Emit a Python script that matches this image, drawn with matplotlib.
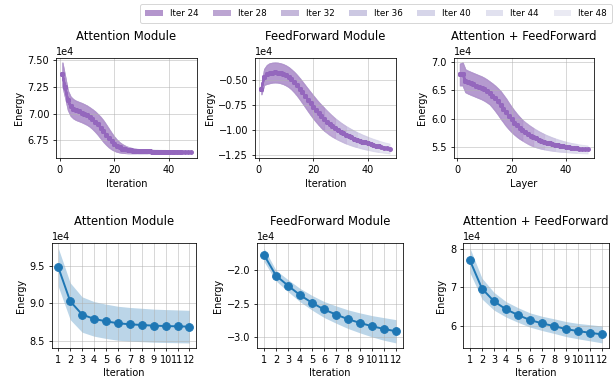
import matplotlib
matplotlib.use("Agg")
import matplotlib.pyplot as plt
from matplotlib.patches import Patch
import numpy as np

# ---------------- data (energies in units of 1e4) ----------------
iter_counts = [24, 28, 32, 36, 40, 44, 48]
steps_long = list(range(1, 49))
steps_short = list(range(1, 13))

attn_mean = [7.37, 7.25, 7.125, 7.07, 7.045, 7.03, 7.02, 7.01, 6.998, 6.985,
             6.968, 6.948, 6.925, 6.898, 6.868, 6.836, 6.803, 6.771, 6.742, 6.717,
             6.697, 6.682, 6.671, 6.663, 6.657, 6.653, 6.650, 6.648, 6.646, 6.645,
             6.6445, 6.644, 6.6435, 6.643, 6.6427, 6.6424, 6.6421, 6.6418, 6.6415, 6.6412,
             6.641, 6.6408, 6.6406, 6.6404, 6.6402, 6.640, 6.640, 6.640]
attn_std = [0.11, 0.10, 0.09, 0.09, 0.09, 0.09, 0.09, 0.09, 0.09, 0.09,
            0.09, 0.092, 0.095, 0.097, 0.10, 0.10, 0.095, 0.087, 0.077, 0.066,
            0.056, 0.047, 0.040, 0.034, 0.030, 0.026, 0.023, 0.021, 0.020, 0.019,
            0.018, 0.018, 0.017, 0.017, 0.016, 0.016, 0.016, 0.016, 0.016, 0.016,
            0.015, 0.015, 0.015, 0.015, 0.015, 0.015, 0.015, 0.015]

ff_mean = [-0.59, -0.465, -0.44, -0.428, -0.422, -0.42, -0.422, -0.428, -0.437, -0.45,
           -0.467, -0.49, -0.517, -0.548, -0.583, -0.62, -0.658, -0.696, -0.733, -0.769,
           -0.803, -0.835, -0.865, -0.893, -0.918, -0.942, -0.964, -0.984, -1.002, -1.019,
           -1.035, -1.05, -1.063, -1.076, -1.088, -1.099, -1.109, -1.119, -1.128, -1.137,
           -1.145, -1.153, -1.16, -1.167, -1.173, -1.179, -1.184, -1.189]
ff_std = [0.05, 0.08, 0.095, 0.10, 0.10, 0.10, 0.10, 0.10, 0.10, 0.10,
          0.10, 0.10, 0.102, 0.104, 0.106, 0.108, 0.11, 0.112, 0.114, 0.115,
          0.115, 0.115, 0.115, 0.115, 0.111, 0.108, 0.104, 0.10, 0.097, 0.093,
          0.09, 0.087, 0.084, 0.081, 0.078, 0.075, 0.073, 0.07, 0.068, 0.065,
          0.063, 0.061, 0.059, 0.057, 0.055, 0.053, 0.051, 0.05]

both_mean = [6.78, 6.79, 6.67, 6.645, 6.625, 6.605, 6.585, 6.565, 6.545, 6.52,
             6.49, 6.455, 6.41, 6.36, 6.305, 6.245, 6.18, 6.115, 6.05, 5.99,
             5.935, 5.885, 5.84, 5.80, 5.765, 5.733, 5.704, 5.678, 5.655, 5.634,
             5.615, 5.598, 5.583, 5.569, 5.556, 5.544, 5.533, 5.523, 5.514, 5.506,
             5.498, 5.491, 5.485, 5.479, 5.474, 5.469, 5.465, 5.461]
both_std = [0.19, 0.20, 0.20, 0.20, 0.20, 0.20, 0.20, 0.20, 0.20, 0.20,
            0.20, 0.20, 0.21, 0.22, 0.23, 0.24, 0.24, 0.24, 0.23, 0.22,
            0.21, 0.20, 0.19, 0.18, 0.175, 0.17, 0.165, 0.16, 0.153, 0.146,
            0.14, 0.133, 0.127, 0.121, 0.115, 0.11, 0.105, 0.10, 0.095, 0.09,
            0.087, 0.084, 0.081, 0.078, 0.076, 0.074, 0.072, 0.07]

b_attn_mean = [9.482, 9.03, 8.853, 8.795, 8.763, 8.737, 8.723, 8.714, 8.705, 8.70, 8.696, 8.692]
b_attn_std = [0.255, 0.245, 0.235, 0.23, 0.228, 0.226, 0.224, 0.222, 0.22, 0.219, 0.218, 0.217]
b_ff_mean = [-1.763, -2.076, -2.227, -2.369, -2.485, -2.586, -2.662, -2.732, -2.788, -2.838, -2.879, -2.914]
b_ff_std = [0.10, 0.08, 0.09, 0.10, 0.11, 0.12, 0.13, 0.14, 0.15, 0.16, 0.17, 0.175]
b_both_mean = [7.696, 6.965, 6.635, 6.426, 6.278, 6.148, 6.061, 5.99, 5.913, 5.86, 5.817, 5.774]
b_both_std = [0.32, 0.27, 0.23, 0.20, 0.19, 0.185, 0.185, 0.19, 0.195, 0.20, 0.21, 0.22]

top_titles = ["Attention Module", "FeedForward Module", "Attention + FeedForward"]
top_xlabels = ["Iteration", "Iteration", "Layer"]
bottom_titles = ["Attention Module", "FeedForward Module", "Attention + FeedForward"]
top_yticks = [[6.75, 7.00, 7.25, 7.50], [-1.25, -1.00, -0.75, -0.50], [5.5, 6.0, 6.5, 7.0]]
bottom_yticks = [[8.5, 9.0, 9.5], [-3.0, -2.5, -2.0], [6, 7, 8]]
top_xticks = [0, 20, 40]
SCALE = 1e4

# ---------------- styling ----------------
W, H, DPI = 616, 383, 70
fig = plt.figure(figsize=(W / DPI, H / DPI), dpi=DPI)

def box(l, r, t, b):
    return [l / W, 1 - b / H, (r - l) / W, (b - t) / H]

top_boxes = [box(56, 197, 58, 158), box(255, 396, 58, 158), box(453.5, 594, 58, 158)]
bot_boxes = [box(51.7, 196, 243.3, 347.7), box(257.3, 402.7, 243.3, 347.7), box(463.3, 609, 243.3, 347.7)]

purple = "#9467bd"
fill_colors = ["#ac8cc9", "#b798cf", "#c1aed9", "#cac0e0", "#d0cae5", "#d8d4eb", "#d1d1e7"]
fill_alpha = 0.5
legend_colors = ["#b496cd", "#bca5d2", "#c4b7da", "#ccc8e2", "#d6d5e9", "#e1e1ef", "#eaeaf3"]

def style(ax):
    ax.grid(True, color="#b0b0b0", alpha=0.5, linewidth=1.0)
    ax.ticklabel_format(axis="y", style="sci", scilimits=(0, 0), useOffset=False)

top_data = [(attn_mean, attn_std), (ff_mean, ff_std), (both_mean, both_std)]
for k, (m, s) in enumerate(top_data):
    ax = fig.add_axes(top_boxes[k])
    m = np.array(m) * SCALE
    s = np.array(s) * SCALE
    x = np.array(steps_long)
    # longest run first so the shorter runs sit on top
    for i in reversed(range(len(iter_counts))):
        n = iter_counts[i]
        ax.fill_between(x[:n], m[:n] - s[:n], m[:n] + s[:n],
                        color=fill_colors[i], alpha=fill_alpha)
    for i, n in enumerate(iter_counts):
        ax.plot(x[:n], m[:n], color=purple, lw=2, marker="o", ms=4)
    ax.set_title(top_titles[k], pad=19)
    ax.set_xlabel(top_xlabels[k])
    ax.set_ylabel("Energy")
    ax.set_xticks(top_xticks)
    ax.set_yticks([v * SCALE for v in top_yticks[k]])
    style(ax)

bot_data = [(b_attn_mean, b_attn_std), (b_ff_mean, b_ff_std), (b_both_mean, b_both_std)]
for k, (m, s) in enumerate(bot_data):
    ax = fig.add_axes(bot_boxes[k])
    m = np.array(m) * SCALE
    s = np.array(s) * SCALE
    x = np.array(steps_short)
    ax.fill_between(x, m - s, m + s, color="#1f77b4", alpha=0.3, linewidth=0)
    ax.plot(x, m, color="#1f77b4", lw=2, marker="o", ms=8)
    ax.set_title(bottom_titles[k], pad=19)
    ax.set_xlabel("Iteration")
    ax.set_ylabel("Energy")
    ax.set_xticks(steps_short)
    ax.set_yticks([v * SCALE for v in bottom_yticks[k]])
    style(ax)

legend_handles = [Patch(facecolor=c, edgecolor="none") for c in legend_colors]
fig.legend(legend_handles, [f"Iter {n}" for n in iter_counts], loc="upper right",
           ncol=7, bbox_to_anchor=(1.0, 1.0), frameon=True, fontsize=9,
           borderpad=0.55, columnspacing=1.7)

fig.savefig("out.png", dpi=DPI)
